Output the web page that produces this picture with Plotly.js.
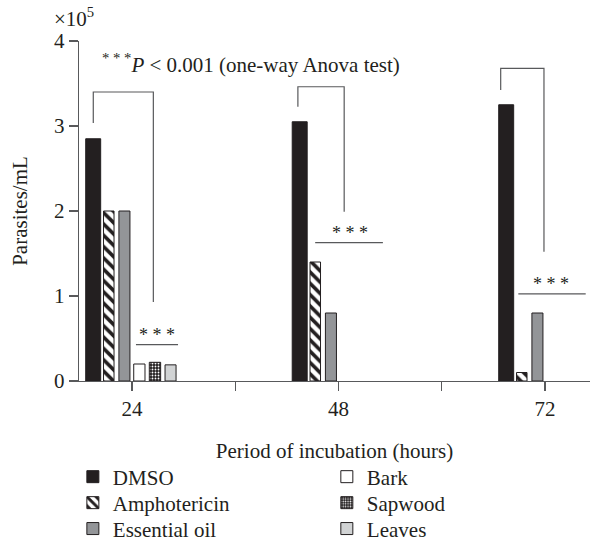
<!DOCTYPE html>
<html>
<head>
<meta charset="utf-8">
<script src="https://cdn.plot.ly/plotly-3.0.1.min.js"></script>
<style>html,body{margin:0;padding:0;background:#fff;}#chart{width:590px;height:541px;}</style>
</head>
<body>
<div id="chart"></div>
<script>
// ---- data ----
var hours = [24, 48, 72];
var dmso = [285000, 305000, 325000];
var amphotericin = [200000, 140000, 10000];
var essentialOil = [200000, 80000, 80000];
var bark = [20000, 0, 0];
var sapwood = [22000, 0, 0];
var leaves = [19000, 0, 0];
var seriesNames = ['DMSO', 'Amphotericin', 'Essential oil', 'Bark', 'Sapwood', 'Leaves'];
var xTickVals = [24, 36, 48, 60, 72];
var xTickText = ['24', '', '48', '', '72'];
var yTickVals = [0, 100000, 200000, 300000, 400000];
var yTickText = ['0', '1', '2', '3', '4'];

var FONT = 'Liberation Serif, Times New Roman, serif';
var FS = 21;
var INK = '#231f20';
var AX = '#58595b';

function bar(name, y, legendId, opts) {
  var t = Object.assign({
    type: 'bar', name: name, x: hours, y: y, legend: legendId,
    hoverinfo: 'x+y+name'
  }, opts);
  // outline only where a bar is actually drawn
  t.marker.line = {color: INK, width: y.map(function (v) { return v > 0 ? 1 : 0; })};
  return t;
}

var traces = [
  bar(seriesNames[0], dmso, 'legend', {offset: -5.38, width: 1.74, marker: {color: INK}}),
  bar(seriesNames[1], amphotericin, 'legend2', {offset: -3.31, width: 1.22, marker: {color: '#ffffff', pattern: {shape: '\\', fgcolor: INK, bgcolor: '#ffffff', size: 8, solidity: 0.45}}}),
  bar(seriesNames[2], essentialOil, 'legend3', {offset: -1.52, width: 1.28, marker: {color: '#939598'}}),
  bar(seriesNames[3], bark, 'legend4', {offset: 0.2, width: 1.31, marker: {color: '#ffffff'}}),
  bar(seriesNames[4], sapwood, 'legend5', {offset: 2.01, width: 1.32, marker: {color: INK, pattern: {shape: '.', fgcolor: '#ffffff', bgcolor: INK, size: 3, solidity: 0.3}}}),
  bar(seriesNames[5], leaves, 'legend6', {offset: 3.84, width: 1.28, marker: {color: '#d1d3d4'}})
];

function bracket(xl, yl, xr, yr, ytop) {
  return {type: 'path', xref: 'x', yref: 'y',
    path: 'M' + xl + ',' + yl + ' L' + xl + ',' + ytop + ' L' + xr + ',' + ytop + ' L' + xr + ',' + yr,
    line: {color: AX, width: 1.2}};
}
function hline(x0, x1, y) {
  return {type: 'line', xref: 'x', yref: 'y', x0: x0, x1: x1, y0: y, y1: y, line: {color: AX, width: 1.2}};
}
function stars(x, y) {
  return {xref: 'x', yref: 'y', x: x, y: y, text: '* * *', showarrow: false,
    font: {family: FONT, size: 18, color: INK}, xanchor: 'center', yanchor: 'middle'};
}
function leg(x, y) {
  return {x: x, xanchor: 'left', y: y, yanchor: 'middle', orientation: 'v',
    font: {family: FONT, size: FS, color: INK}, bgcolor: 'rgba(0,0,0,0)'};
}

var layout = {
  width: 590, height: 541,
  margin: {l: 79, r: 0, t: 41, b: 160, autoexpand: false},
  paper_bgcolor: '#ffffff', plot_bgcolor: '#ffffff',
  barmode: 'overlay',
  font: {family: FONT, size: FS, color: INK},
  xaxis: {
    range: [17.84, 77.23], tickvals: xTickVals, ticktext: xTickText,
    showline: true, linecolor: AX, linewidth: 1.2,
    ticks: 'outside', ticklen: 9, tickcolor: AX, tickwidth: 1.2,
    showgrid: false, zeroline: false,
    tickfont: {family: FONT, size: FS, color: INK},
    title: {text: 'Period of incubation (hours)', font: {family: FONT, size: FS, color: INK}, standoff: 22}
  },
  yaxis: {
    range: [0, 400000], tickvals: yTickVals, ticktext: yTickText,
    showline: true, linecolor: AX, linewidth: 1.2,
    ticks: 'outside', ticklen: 9, tickcolor: AX, tickwidth: 1.2,
    showgrid: false, zeroline: false,
    tickfont: {family: FONT, size: FS, color: INK},
    title: {text: 'Parasites/mL', font: {family: FONT, size: FS, color: INK}, standoff: 20}
  },
  legend: leg(-0.012, -0.2824),
  legend2: leg(-0.012, -0.3588),
  legend3: leg(-0.012, -0.4350),
  legend4: leg(0.485, -0.2824),
  legend5: leg(0.485, -0.3588),
  legend6: leg(0.485, -0.4350),
  shapes: [
    bracket(19.50, 303500, 26.48, 92900, 340000),
    hline(24.46, 29.35, 42700),
    bracket(43.28, 322700, 48.66, 199200, 346200),
    hline(45.29, 53.16, 162700),
    bracket(66.85, 342400, 71.88, 152100, 367900),
    hline(68.9, 76.73, 102400)
  ],
  annotations: [
    stars(26.9, 54000), stars(49.36, 174000), stars(72.66, 114500),
    {xref: 'paper', yref: 'paper', x: 0.041, y: 0.935, xanchor: 'left', yanchor: 'middle', showarrow: false,
      text: '<sup>* * *</sup><i>P</i> &lt; 0.001 (one-way Anova test)', font: {family: FONT, size: 21, color: INK}},
    {xref: 'paper', yref: 'paper', x: -0.053, y: 1.07, xanchor: 'left', yanchor: 'middle', showarrow: false,
      text: '×10<sup>5</sup>', font: {family: FONT, size: FS, color: INK}}
  ],
  showlegend: true
};

Plotly.newPlot('chart', traces, layout, {displayModeBar: false, staticPlot: true});
</script>
</body>
</html>
